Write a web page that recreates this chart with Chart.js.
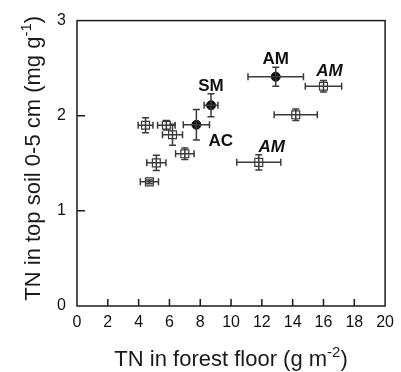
<!DOCTYPE html>
<html>
<head>
<meta charset="utf-8">
<script src="https://cdn.jsdelivr.net/npm/chart.js@4"></script>
<style>
  html, body { margin: 0; padding: 0; background: #ffffff; }
  #wrap { width: 401px; height: 372px; }
</style>
</head>
<body>
<div id="wrap"><canvas id="tnChart" width="401" height="372"></canvas></div>
<script>
// ======================================================
// DATA
// ======================================================

// open squares
const squareX = [16.0, 14.2, 11.8, 4.45, 5.8, 6.2, 7.0, 5.15, 4.7];
const squareY = [2.31, 2.01, 1.51, 1.9, 1.9, 1.8, 1.6, 1.505, 1.305];
const squareXErr = [1.18, 1.4, 1.43, 0.48, 0.57, 0.65, 0.6, 0.62, 0.59];
const squareYErr = [0.06, 0.06, 0.08, 0.08, 0.05, 0.11, 0.06, 0.08, 0.02];
const squareLabels = ["AM", "", "AM", "", "", "", "", "", ""];

// filled circles
const circleX = [12.9, 8.7, 7.75];
const circleY = [2.41, 2.11, 1.905];
const circleXErr = [1.8, 0.45, 0.85];
const circleYErr = [0.1, 0.12, 0.16];
const circleLabels = ["AM", "SM", "AC"];

const xTicks = [0, 2, 4, 6, 8, 10, 12, 14, 16, 18, 20];
const yTicks = [0, 1, 2, 3];

const xTitle = [{ t: "TN in forest floor (g m" }, { t: "-2", sup: true }, { t: ")" }];
const yTitle = [{ t: "TN in top soil 0-5 cm (mg g" }, { t: "-1", sup: true }, { t: ")" }];

// ======================================================
// STYLE
// ======================================================

const FONT = "'Liberation Sans', Arial, Helvetica, sans-serif";
const INK = "#111111";
const BAR = "#3a3a3a";

// pixel offsets of the point labels (index -> offset)
const circleLabelPos = [
  { dx: 0, dy: -13, align: "center" },
  { dx: 0, dy: -14, align: "center" },
  { dx: 12, dy: 21, align: "left" },
];
const squareLabelPos = {
  0: { dx: 6, dy: -10.5, align: "center" },
  2: { dx: 13, dy: -10, align: "center" },
};

function toPoints(xs, ys) {
  return xs.map((x, i) => ({ x: x, y: ys[i] }));
}

// ======================================================
// PLUGIN: error bars, frame, inward ticks, labels, titles
// ======================================================

function drawErrorBars(chart, xs, ys, xe, ye) {
  const ctx = chart.ctx;
  const sx = chart.scales.x;
  const sy = chart.scales.y;
  const cap = 3.5;

  ctx.save();
  ctx.strokeStyle = BAR;
  ctx.lineWidth = 1.5;
  xs.forEach((x, i) => {
    const px = sx.getPixelForValue(x);
    const py = sy.getPixelForValue(ys[i]);
    const x0 = sx.getPixelForValue(x - xe[i]);
    const x1 = sx.getPixelForValue(x + xe[i]);
    const y0 = sy.getPixelForValue(ys[i] - ye[i]);
    const y1 = sy.getPixelForValue(ys[i] + ye[i]);

    ctx.beginPath();
    ctx.moveTo(x0, py); ctx.lineTo(x1, py);
    ctx.moveTo(x0, py - cap); ctx.lineTo(x0, py + cap);
    ctx.moveTo(x1, py - cap); ctx.lineTo(x1, py + cap);
    ctx.moveTo(px, y0); ctx.lineTo(px, y1);
    ctx.moveTo(px - cap, y0); ctx.lineTo(px + cap, y0);
    ctx.moveTo(px - cap, y1); ctx.lineTo(px + cap, y1);
    ctx.stroke();
  });
  ctx.restore();
}

function drawRich(ctx, parts, size) {
  const supSize = Math.round(size * 0.68);
  let total = 0;
  parts.forEach((p) => {
    ctx.font = `${p.sup ? supSize : size}px ${FONT}`;
    p.w = ctx.measureText(p.t).width;
    total += p.w;
  });
  let x = -total / 2;
  parts.forEach((p) => {
    ctx.font = `${p.sup ? supSize : size}px ${FONT}`;
    ctx.fillText(p.t, x, p.sup ? -size * 0.42 : 0);
    x += p.w;
  });
}

const figurePlugin = {
  id: "figure",
  afterDatasetsDraw(chart) {
    drawErrorBars(chart, squareX, squareY, squareXErr, squareYErr);
    drawErrorBars(chart, circleX, circleY, circleXErr, circleYErr);
  },
  afterDraw(chart) {
    const ctx = chart.ctx;
    const area = chart.chartArea;
    const sx = chart.scales.x;
    const sy = chart.scales.y;

    ctx.save();

    // frame
    ctx.strokeStyle = "#1a1a1a";
    ctx.lineWidth = 1.5;
    ctx.strokeRect(area.left, area.top, area.right - area.left, area.bottom - area.top);

    // inward tick marks
    ctx.beginPath();
    xTicks.slice(1, -1).forEach((v) => {
      const px = sx.getPixelForValue(v);
      ctx.moveTo(px, area.bottom);
      ctx.lineTo(px, area.bottom - 7);
    });
    yTicks.slice(1, -1).forEach((v) => {
      const py = sy.getPixelForValue(v);
      ctx.moveTo(area.left, py);
      ctx.lineTo(area.left + 8, py);
    });
    ctx.stroke();

    // point labels
    ctx.fillStyle = INK;
    ctx.textBaseline = "alphabetic";
    ctx.font = `bold 17px ${FONT}`;
    circleLabels.forEach((txt, i) => {
      const pos = circleLabelPos[i];
      ctx.textAlign = pos.align;
      ctx.fillText(txt, sx.getPixelForValue(circleX[i]) + pos.dx, sy.getPixelForValue(circleY[i]) + pos.dy);
    });
    ctx.font = `italic bold 17px ${FONT}`;
    squareLabels.forEach((txt, i) => {
      if (!txt) return;
      const pos = squareLabelPos[i];
      ctx.textAlign = pos.align;
      ctx.fillText(txt, sx.getPixelForValue(squareX[i]) + pos.dx, sy.getPixelForValue(squareY[i]) + pos.dy);
    });

    // axis titles
    ctx.textAlign = "left";
    ctx.fillStyle = "#1a1a1a";
    ctx.save();
    ctx.translate((area.left + area.right) / 2, 366);
    drawRich(ctx, xTitle, 22);
    ctx.restore();

    ctx.save();
    ctx.translate(40, (area.top + area.bottom) / 2 - 5);
    ctx.rotate(-Math.PI / 2);
    drawRich(ctx, yTitle, 22);
    ctx.restore();

    ctx.restore();
  },
};

// ======================================================
// CHART
// ======================================================

const tickFont = { family: FONT, size: 16 };

new Chart(document.getElementById("tnChart").getContext("2d"), {
  type: "scatter",
  data: {
    datasets: [
      {
        label: "squares",
        data: toPoints(squareX, squareY),
        pointStyle: "rect",
        pointRadius: 5.6,
        backgroundColor: "rgba(255,255,255,0)",
        borderColor: BAR,
        borderWidth: 1.2,
      },
      {
        label: "circles",
        data: toPoints(circleX, circleY),
        pointStyle: "circle",
        pointRadius: 4.5,
        backgroundColor: INK,
        borderColor: INK,
        borderWidth: 1,
      },
    ],
  },
  options: {
    responsive: false,
    animation: false,
    devicePixelRatio: 1,
    layout: { padding: { top: 15, right: 14, left: 0, bottom: 0 } },
    plugins: {
      legend: { display: false },
      tooltip: { enabled: false },
    },
    scales: {
      x: {
        type: "linear",
        min: 0,
        max: 20,
        afterBuildTicks: (scale) => { scale.ticks = xTicks.map((v) => ({ value: v })); },
        ticks: { color: INK, font: tickFont, padding: 7, maxRotation: 0 },
        grid: { display: false, drawTicks: false },
        border: { display: false },
        afterFit: (scale) => { scale.height = 66; },
      },
      y: {
        type: "linear",
        min: 0,
        max: 3,
        afterBuildTicks: (scale) => { scale.ticks = yTicks.map((v) => ({ value: v })); },
        ticks: { color: INK, font: tickFont, padding: 11 },
        grid: { display: false, drawTicks: false },
        border: { display: false },
        afterFit: (scale) => { scale.width = 77; },
      },
    },
  },
  plugins: [figurePlugin],
});
</script>
</body>
</html>
